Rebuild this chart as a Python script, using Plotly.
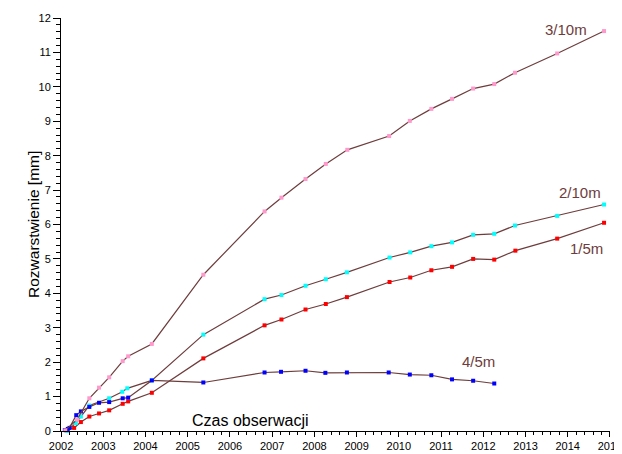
import plotly.graph_objects as go

# 3/10m (pink)
x_310 = [2002.10, 2002.38, 2002.67, 2002.90, 2003.14, 2003.46, 2003.59, 2004.15, 2005.37,
         2006.82, 2007.22, 2007.79, 2008.27, 2008.78, 2009.77, 2010.26, 2010.77, 2011.26,
         2011.76, 2012.26, 2012.75, 2013.75, 2014.86]
y_310 = [0.02, 0.33, 0.95, 1.26, 1.56, 2.03, 2.17, 2.53, 4.54,
         6.38, 6.78, 7.32, 7.76, 8.17, 8.57, 9.01, 9.36, 9.65,
         9.95, 10.08, 10.41, 10.97, 11.62]

# 2/10m (cyan)
x_210 = [2002.14, 2002.35, 2002.47, 2002.67, 2003.14, 2003.45, 2003.57, 2004.15, 2005.37,
         2006.82, 2007.22, 2007.79, 2008.27, 2008.77, 2009.78, 2010.27, 2010.77, 2011.26,
         2011.76, 2012.26, 2012.75, 2013.75, 2014.86]
y_210 = [0.00, 0.23, 0.42, 0.74, 0.95, 1.14, 1.24, 1.47, 2.80,
         3.83, 3.95, 4.22, 4.41, 4.61, 5.04, 5.19, 5.37, 5.48,
         5.70, 5.73, 5.97, 6.25, 6.58]

# 1/5m (red)
x_15 = [2002.12, 2002.31, 2002.47, 2002.67, 2002.90, 2003.14, 2003.46, 2003.59, 2004.15, 2005.37,
        2006.82, 2007.22, 2007.79, 2008.27, 2008.77, 2009.78, 2010.27, 2010.77, 2011.26,
        2011.76, 2012.26, 2012.76, 2013.75, 2014.86]
y_15 = [0.02, 0.09, 0.26, 0.42, 0.51, 0.60, 0.79, 0.86, 1.11, 2.11,
        3.07, 3.24, 3.53, 3.69, 3.89, 4.33, 4.46, 4.67, 4.77,
        5.00, 4.98, 5.24, 5.59, 6.05]

# 4/5m (blue)
x_45 = [2002.09, 2002.16, 2002.20, 2002.36, 2002.47, 2002.67, 2002.90, 2003.14, 2003.46, 2003.59,
        2004.15, 2005.37, 2006.82, 2007.21, 2007.79, 2008.26, 2008.77, 2009.76, 2010.26,
        2010.77, 2011.26, 2011.76, 2012.26]
y_45 = [0.03, 0.06, 0.09, 0.46, 0.57, 0.70, 0.82, 0.84, 0.95, 0.97,
        1.47, 1.41, 1.70, 1.72, 1.75, 1.69, 1.70, 1.70, 1.64,
        1.62, 1.50, 1.46, 1.38]

series = [
    ("1/5m", x_15, y_15, "#ff0000"),
    ("2/10m", x_210, y_210, "#00ffff"),
    ("4/5m", x_45, y_45, "#0000ff"),
    ("3/10m", x_310, y_310, "#ff99cc"),
]

line_col = "#6e3c3c"
FONT = "Liberation Sans, Arial"
fig = go.Figure()
for name, xs, ys, col in series:
    fig.add_trace(go.Scatter(
        x=xs, y=ys, mode="lines+markers", name=name,
        line=dict(color=line_col, width=1.2),
        marker=dict(color=col, size=4, symbol="square"),
        showlegend=False, cliponaxis=False,
    ))

labels = [
    ("3/10m", 2013.97, 11.67),
    ("2/10m", 2014.29, 6.92),
    ("1/5m", 2014.45, 5.30),
    ("4/5m", 2011.88, 2.02),
]
for t, lx, ly in labels:
    fig.add_annotation(x=lx, y=ly, text=t, showarrow=False,
                       font=dict(family=FONT, size=15, color="#6e3c3c"))

fig.add_annotation(x=2006.48, y=0.30, text="Czas obserwacji", showarrow=False,
                   font=dict(family=FONT, size=16, color="black"))

fig.add_annotation(xref="paper", yref="paper", x=0, y=0.5, xshift=-38,
                   text="Rozwarstwienie [mm]", textangle=-90, showarrow=False,
                   font=dict(family=FONT, size=15.5, color="black"))

fig.update_layout(
    width=622, height=454,
    margin=dict(l=53, r=20, t=10, b=31, autoexpand=False),
    paper_bgcolor="white", plot_bgcolor="white",
    font=dict(family=FONT, size=11, color="black"),
)
fig.update_xaxes(
    range=[2001.999, 2015.001], tickmode="linear", tick0=2002, dtick=1,
    showline=True, linecolor="black", linewidth=1,
    ticks="outside", ticklen=5, tickcolor="black",
    minor=dict(dtick=0.2, ticks="outside", ticklen=3, tickcolor="black"),
    showgrid=False, zeroline=False, automargin=False,
    tickfont=dict(size=11),
)
fig.update_yaxes(
    range=[0, 12], tickmode="linear", tick0=0, dtick=1,
    showline=True, linecolor="black", linewidth=1,
    ticks="outside", ticklen=7, tickcolor="black",
    minor=dict(dtick=0.2, ticks="outside", ticklen=4, tickcolor="black"),
    showgrid=False, zeroline=False, automargin=False,
    tickfont=dict(size=11),
)

fig.write_html("out.html")
